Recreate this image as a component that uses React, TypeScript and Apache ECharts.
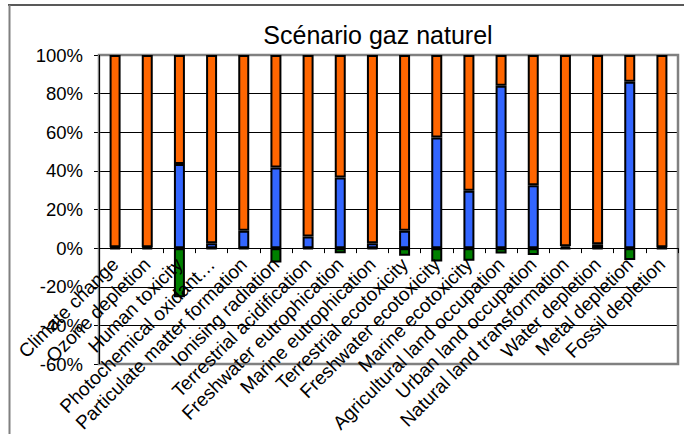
import React, { useEffect, useRef } from "react";
import * as echarts from "echarts";

const categories = [
  "Climate change",
  "Ozone depletion",
  "Human toxicity",
  "Photochemical oxidant…",
  "Particulate matter formation",
  "Ionising radiation",
  "Terrestrial acidification",
  "Freshwater eutrophication",
  "Marine eutrophication",
  "Terrestrial ecotoxicity",
  "Freshwater ecotoxicity",
  "Marine ecotoxicity",
  "Agricultural land occupation",
  "Urban land occupation",
  "Natural land transformation",
  "Water depletion",
  "Metal depletion",
  "Fossil depletion",
];

const blueValues = [0.5, 0.5, 43.5, 2.5, 9, 41.8, 6, 36.6, 2.5, 9, 57.3, 29.7, 84.1, 32.6, 1, 2, 86.2, 0.5];
const orangeValues = [99.5, 99.5, 56.5, 97.5, 91, 58.2, 94, 63.4, 97.5, 91, 42.7, 70.3, 15.9, 67.4, 99, 98, 13.8, 99.5];
const greenValues = [-0.5, -0.5, -25.5, -0.3, -0.5, -7.4, -0.5, -2.6, -0.5, -4, -6.9, -6.6, -2.8, -3.6, -0.3, -0.3, -6.2, -0.3];

const yMin = -60;
const yMax = 100;
const yStep = 20;

const titleText = "Scénario gaz naturel";

const FONT = "'Liberation Sans', Arial, sans-serif";

export default function App() {
  const ref = useRef<HTMLDivElement>(null);

  useEffect(() => {
    if (!ref.current) return;
    const chart = echarts.init(ref.current, null, { renderer: "svg" });
    const gridLeft = 99;
    const gridTop = 55;
    const gridRight = 678;
    const gridBottom = 364;
    // distance from plot bottom to the zero line, so the category axis sits on 0%
    const zeroOffset = ((gridBottom - gridTop) * (0 - yMin)) / (yMax - yMin);
    const barStyle = (color: string) => ({
      color,
      borderColor: "#000",
      borderWidth: 2,
    });
    chart.setOption({
      animation: false,
      backgroundColor: "#fff",
      textStyle: { fontFamily: FONT },
      grid: {
        left: gridLeft,
        top: gridTop,
        right: 684 - gridRight,
        bottom: 434 - gridBottom,
        containLabel: false,
        outerBoundsMode: "none",
      },
      xAxis: {
        type: "category",
        data: categories,
        position: "bottom",
        offset: -zeroOffset,
        z: 5,
        axisLine: { onZero: false, lineStyle: { color: "#000", width: 1 } },
        axisTick: { show: true, length: 5, lineStyle: { color: "#000" } },
        axisLabel: {
          interval: 0,
          rotate: 45,
          margin: 13,
          color: "#000",
          fontSize: 19,
          fontFamily: FONT,
        },
        splitLine: { show: false },
      },
      yAxis: {
        type: "value",
        min: yMin,
        max: yMax,
        interval: yStep,
        axisLine: { show: true, lineStyle: { color: "#000", width: 1 } },
        axisTick: { show: true, length: 5, lineStyle: { color: "#000" } },
        axisLabel: {
          formatter: "{value}%",
          color: "#000",
          fontSize: 18.5,
          margin: 16,
          fontFamily: FONT,
        },
        splitLine: { show: true, lineStyle: { color: "#000", width: 1 } },
      },
      graphic: [
        {
          type: "line",
          shape: { x1: 8, y1: 5, x2: 684, y2: 5 },
          style: { stroke: "#222", lineWidth: 1.5 },
          z: 10,
        },
        {
          type: "line",
          shape: { x1: 9.5, y1: 5, x2: 9.5, y2: 434 },
          style: { stroke: "#808080", lineWidth: 2 },
          z: 10,
        },
        {
          type: "rect",
          shape: { x: gridLeft, y: gridTop, width: gridRight - gridLeft, height: gridBottom - gridTop },
          style: { fill: null, stroke: "#808080", lineWidth: 2.5 },
          z: 1,
        },
        {
          type: "line",
          shape: { x1: gridLeft + 0.5, y1: gridTop, x2: gridLeft + 0.5, y2: gridBottom },
          style: { stroke: "#000", lineWidth: 1 },
          z: 1,
        },
        {
          type: "text",
          x: 378,
          y: 47,
          style: {
            text: titleText,
            fontSize: 25,
            fontFamily: FONT,
            fill: "#000",
            textAlign: "center",
            textVerticalAlign: "bottom",
          },
          z: 10,
        },
      ],
      series: [
        {
          name: "blue",
          type: "bar",
          stack: "total",
          data: blueValues,
          barWidth: 11,
          itemStyle: barStyle("#3366FF"),
        },
        {
          name: "orange",
          type: "bar",
          stack: "total",
          data: orangeValues,
          barWidth: 11,
          itemStyle: barStyle("#FF6600"),
        },
        {
          name: "green",
          type: "bar",
          stack: "total",
          data: greenValues,
          barWidth: 11,
          itemStyle: barStyle("#008000"),
        },
      ],
    });
    return () => chart.dispose();
  }, []);

  return (
    <div
      ref={ref}
      style={{ position: "fixed", left: 0, top: 0, width: 684, height: 434 }}
    />
  );
}
